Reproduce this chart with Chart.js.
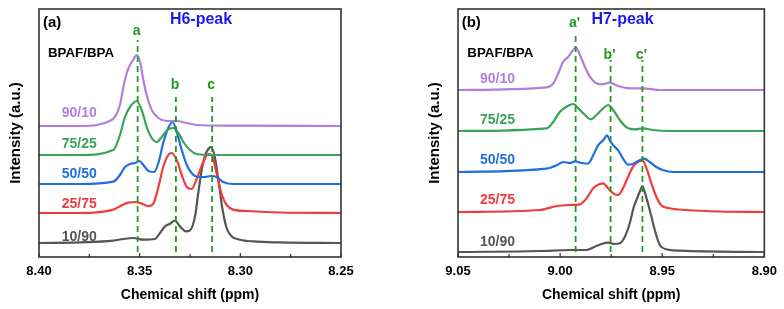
<!DOCTYPE html>
<html>
<head>
<meta charset="utf-8">
<script src="https://cdn.jsdelivr.net/npm/chart.js@4.4.1/dist/chart.umd.min.js"></script>
<style>
  body { margin: 0; background: #fff; }
  .panel { position: absolute; top: 0; }
</style>
</head>
<body>
<div class="panel" style="left:0px"><canvas id="chartA" width="392" height="309"></canvas></div>
<div class="panel" style="left:392px"><canvas id="chartB" width="392" height="309"></canvas></div>
<script>
// series, top to bottom in the stack
var ratios = ["90/10", "75/25", "50/50", "25/75", "10/90"];
var colors = ["#b07fe0", "#3aa35a", "#1f6fe0", "#f03c3c", "#555555"];

/* panel (a) H6 peak */
var ppmA90 = [8.400, 8.3796, 8.3639, 8.3598, 8.3581, 8.3564, 8.3548, 8.3532, 8.3515, 8.3498, 8.3482, 8.3465, 8.3440, 8.3407, 8.3366, 8.3316, 8.3266, 8.3217, 8.3051, 8.250];
var intA90 = [0, 0, 6, 21, 39, 53, 61, 66, 71, 64, 46, 31, 16, 8, 5, 5, 3, 1, 0.3, 0];
var ppmA75 = [8.400, 8.3796, 8.3631, 8.3598, 8.3573, 8.3548, 8.3515, 8.3490, 8.3465, 8.3440, 8.3415, 8.3390, 8.3363, 8.3333, 8.3308, 8.3283, 8.3250, 8.3217, 8.3134, 8.250];
var intA75 = [0, 0, 5, 20, 38, 48, 54, 45, 28, 17, 13, 18, 25, 27, 22, 13, 5, 1, 0, 0];
var ppmA50 = [8.400, 8.3796, 8.3631, 8.3598, 8.3573, 8.3548, 8.3523, 8.3502, 8.3482, 8.3457, 8.3429, 8.3407, 8.3383, 8.3358, 8.3336, 8.3316, 8.3291, 8.3266, 8.3242, 8.3209, 8.3176, 8.3147, 8.3117, 8.3085, 8.3035, 8.250];
var intA50 = [0, 0, 2.3, 9, 17, 20, 21, 23, 19, 13, 12, 21, 41, 56, 62, 52, 34, 19, 11, 7, 7, 8, 7, 2, 0, 0];
var ppmA25 = [8.400, 8.3796, 8.3631, 8.3589, 8.3556, 8.3523, 8.3490, 8.3457, 8.3432, 8.3407, 8.3383, 8.3358, 8.3341, 8.3316, 8.3291, 8.3266, 8.3242, 8.3217, 8.3184, 8.3159, 8.3142, 8.3117, 8.3093, 8.3068, 8.3035, 8.2968, 8.2803, 8.250];
var intA25 = [0, 0, 3.4, 7.7, 10.4, 11, 9.4, 7, 9.4, 26, 46, 58, 60, 53, 38, 26, 24, 34, 51, 59, 58, 39, 19, 8, 3.4, 2, 0.5, 0];
var ppmA10 = [8.400, 8.3796, 8.3631, 8.3581, 8.3532, 8.3482, 8.3424, 8.3399, 8.3374, 8.3349, 8.3325, 8.3300, 8.3270, 8.3250, 8.3225, 8.3209, 8.3192, 8.3176, 8.3159, 8.3146, 8.3129, 8.3109, 8.3088, 8.3068, 8.3043, 8.3002, 8.2936, 8.2803, 8.250];
var intA10 = [0, 0.6, 2.3, 4, 5, 3.3, 4, 10, 16.6, 19.3, 22.3, 16.6, 11.6, 12.6, 26.6, 50, 73, 87, 94, 96, 88, 63, 33, 15, 6.6, 3.3, 1.6, 0.6, 0];
var offsetsA = [131, 102, 73, 44, 14];
var peaksA = [8.351, 8.332, 8.314];
var peakTopA = [217, 160, 160];
var peakNamesA = ["a", "b", "c"];
var peakNameYA = [226, 172, 172];

/* panel (b) H7 peak */
var ppmB90 = [9.050, 9.0066, 9.0033, 9.0009, 8.9985, 8.9960, 8.9936, 8.9923, 8.9903, 8.9879, 8.9854, 8.9830, 8.9797, 8.9757, 8.9716, 8.9659, 8.9594, 8.9512, 8.900];
var intB90 = [0, 2.7, 6.7, 16.7, 28.3, 33.3, 40, 42.7, 35, 23.3, 13.3, 7.7, 5.7, 7.3, 4, 1.7, 1.7, 0, 0];
var ppmB75 = [9.050, 9.0066, 9.0033, 9.0001, 8.9968, 8.9936, 8.9903, 8.9870, 8.9851, 8.9822, 8.9789, 8.9765, 8.9740, 8.9708, 8.9675, 8.9635, 8.9594, 8.9545, 8.9464, 8.900];
var intB75 = [0, 2.7, 9.3, 19.3, 24.3, 27, 21, 14.3, 11.7, 16, 22.7, 26, 21, 11, 3.7, 1.7, 2.7, 1, 0, 0];
var ppmB50 = [9.050, 9.0066, 9.0017, 8.9985, 8.9952, 8.9927, 8.9895, 8.9863, 8.9838, 8.9814, 8.9789, 8.9770, 8.9757, 8.9740, 8.9716, 8.9692, 8.9667, 8.9648, 8.9618, 8.9590, 8.9561, 8.9529, 8.9494, 8.9448, 8.900];
var intB50 = [0, 3.4, 6.7, 10, 9, 10.7, 9, 8.4, 16.7, 26.7, 31.7, 36.7, 31.7, 26.7, 21.7, 13.4, 7.4, 7.7, 11, 13.4, 10, 5, 1.7, 0, 0];
var ppmB25 = [9.050, 9.0098, 9.0017, 8.9952, 8.9903, 8.9870, 8.9838, 8.9805, 8.9789, 8.9765, 8.9740, 8.9716, 8.9692, 8.9667, 8.9643, 8.9618, 8.9597, 8.9577, 8.9553, 8.9529, 8.9506, 8.9464, 8.9382, 8.9220, 8.900];
var intB25 = [0, 2, 6, 7, 7.7, 13.7, 23.7, 28, 28.7, 23.7, 18.7, 17, 23.7, 35.3, 45.3, 50.3, 51.3, 43.7, 28.7, 15.3, 7, 3.7, 2, 0.5, 0];
var ppmB10 = [9.050, 9.0098, 8.9952, 8.9870, 8.9830, 8.9797, 8.9765, 8.9732, 8.9708, 8.9683, 8.9659, 8.9639, 8.9623, 8.9610, 8.9597, 8.9584, 8.9570, 8.9553, 8.9532, 8.9512, 8.9480, 8.9415, 8.900];
var intB10 = [0, 1, 2, 2, 5.3, 8, 9.3, 8, 8.7, 15.3, 28.7, 45.3, 53.7, 60.3, 66, 58.7, 48.7, 35.3, 18.7, 7, 2.7, 1.3, 0];
var offsetsB = [167, 126, 85, 45, 5];
var peaksB = [8.9924, 8.9753, 8.9597];
var peakTopB = [225, 197, 197];
var peakNamesB = ["a'", "b'", "c'"];
var peakNameYB = [234, 202, 202];

var FONT = "'Liberation Sans', Arial, sans-serif";
var GREEN = "#229922";
Chart.defaults.font.family = FONT;

// box + inward ticks + peak letters + free text
var framePlugin = {
  id: 'frame',
  afterDatasetsDraw(chart, args, o) {
    var ctx = chart.ctx, a = chart.chartArea, xs = chart.scales.x, ys = chart.scales.y;
    ctx.save();
    ctx.strokeStyle = '#333';
    ctx.lineWidth = 1.2;
    xs.ticks.forEach(t => {
      var px = xs.getPixelForValue(t.value);
      ctx.beginPath(); ctx.moveTo(px, a.bottom); ctx.lineTo(px, a.bottom - 4); ctx.stroke();
    });
    o.minor.forEach(v => {
      var px = xs.getPixelForValue(v);
      ctx.beginPath(); ctx.moveTo(px, a.bottom); ctx.lineTo(px, a.bottom - 3); ctx.stroke();
    });
    ctx.lineWidth = 1.6;
    ctx.strokeRect(a.left, a.top, a.right - a.left, a.bottom - a.top);

    ctx.textBaseline = 'middle';
    ctx.font = 'bold 14px ' + FONT;
    ctx.fillStyle = GREEN;
    ctx.textAlign = 'center';
    o.peaks.forEach((p, i) => {
      ctx.fillText(o.peakNames[i], xs.getPixelForValue(p) - 1, ys.getPixelForValue(o.peakNameY[i]));
    });
    o.texts.forEach(t => {
      ctx.font = 'bold ' + t.size + 'px ' + FONT;
      ctx.fillStyle = t.color;
      ctx.textAlign = t.align || 'left';
      ctx.fillText(t.text, t.x, t.y);
    });
    ctx.restore();
  }
};

function makePanel(id, p) {
  var datasets = [];
  p.peaks.forEach((v, i) => {
    datasets.push({
      data: [{x: v, y: 5}, {x: v, y: p.peakTop[i]}],
      borderColor: GREEN, borderWidth: 1.8, borderDash: [6, 4],
      pointRadius: 0, tension: 0, order: 0
    });
  });
  p.series.forEach((s, i) => {
    datasets.push({
      label: ratios[i],
      data: s[0].map((x, j) => ({x: x, y: p.offsets[i] + s[1][j]})),
      borderColor: colors[i], borderWidth: 2.2,
      pointRadius: 0, cubicInterpolationMode: 'monotone', order: 1 + i
    });
  });

  new Chart(document.getElementById(id), {
    type: 'line',
    data: { datasets: datasets },
    options: {
      responsive: false,
      animation: false,
      layout: { padding: p.padding },
      scales: {
        x: {
          type: 'linear', reverse: true, min: p.min, max: p.max,
          afterFit: s => { s.height = 52; },
          grid: { display: false, drawTicks: false },
          border: { display: false },
          ticks: {
            stepSize: 0.05, autoSkip: false, padding: 7, color: '#000',
            font: { size: 13, weight: 'bold' },
            callback: v => Number(v).toFixed(2)
          },
          title: {
            display: true, text: 'Chemical shift (ppm)', color: '#000',
            font: { size: 14, weight: 'bold' }, padding: { top: 0, bottom: 5.6 }
          }
        },
        y: {
          min: 0, max: 248,
          afterFit: s => { s.width = 39; },
          grid: { display: false, drawTicks: false },
          border: { display: false },
          ticks: { display: false },
          title: {
            display: true, text: 'Intensity (a.u.)', color: '#000',
            font: { size: 15, weight: 'bold' }, padding: { top: 6.4, bottom: 0 }
          }
        }
      },
      plugins: {
        legend: { display: false },
        tooltip: { enabled: false },
        frame: {
          minor: p.minor, peaks: p.peaks, peakNames: p.peakNames, peakNameY: p.peakNameY,
          texts: p.texts
        }
      }
    },
    plugins: [framePlugin]
  });
}

var labelYA = [113.3, 144.5, 174.5, 204.5, 236.7];
var labelYB = [79, 119.7, 160, 200, 242];

makePanel('chartA', {
  min: 8.25, max: 8.40, minor: [8.375, 8.325, 8.275],
  padding: { left: 0, top: 9, right: 51, bottom: 0 },
  offsets: offsetsA,
  series: [[ppmA90, intA90], [ppmA75, intA75], [ppmA50, intA50], [ppmA25, intA25], [ppmA10, intA10]],
  peaks: peaksA, peakTop: peakTopA, peakNames: peakNamesA, peakNameY: peakNameYA,
  texts: [
    {text: '(a)', x: 43, y: 23, size: 15, color: '#000'},
    {text: 'H6-peak', x: 201, y: 20, size: 16, color: '#1a1aee', align: 'center'},
    {text: 'BPAF/BPA', x: 48, y: 53.5, size: 13.3, color: '#000'}
  ].concat(ratios.map((r, i) => ({text: r, x: 61.7, y: labelYA[i], size: 14, color: colors[i]})))
});

makePanel('chartB', {
  min: 8.90, max: 9.05, minor: [9.025, 8.975, 8.925],
  padding: { left: 27, top: 9, right: 19, bottom: 0 },
  offsets: offsetsB,
  series: [[ppmB90, intB90], [ppmB75, intB75], [ppmB50, intB50], [ppmB25, intB25], [ppmB10, intB10]],
  peaks: peaksB, peakTop: peakTopB, peakNames: peakNamesB, peakNameY: peakNameYB,
  texts: [
    {text: '(b)', x: 69.7, y: 23, size: 15, color: '#000'},
    {text: 'H7-peak', x: 230.5, y: 20, size: 16, color: '#1a1aee', align: 'center'},
    {text: 'BPAF/BPA', x: 75.3, y: 53, size: 13.3, color: '#000'}
  ].concat(ratios.map((r, i) => ({text: r, x: 88, y: labelYB[i], size: 14, color: colors[i]})))
});
</script>
</body>
</html>
